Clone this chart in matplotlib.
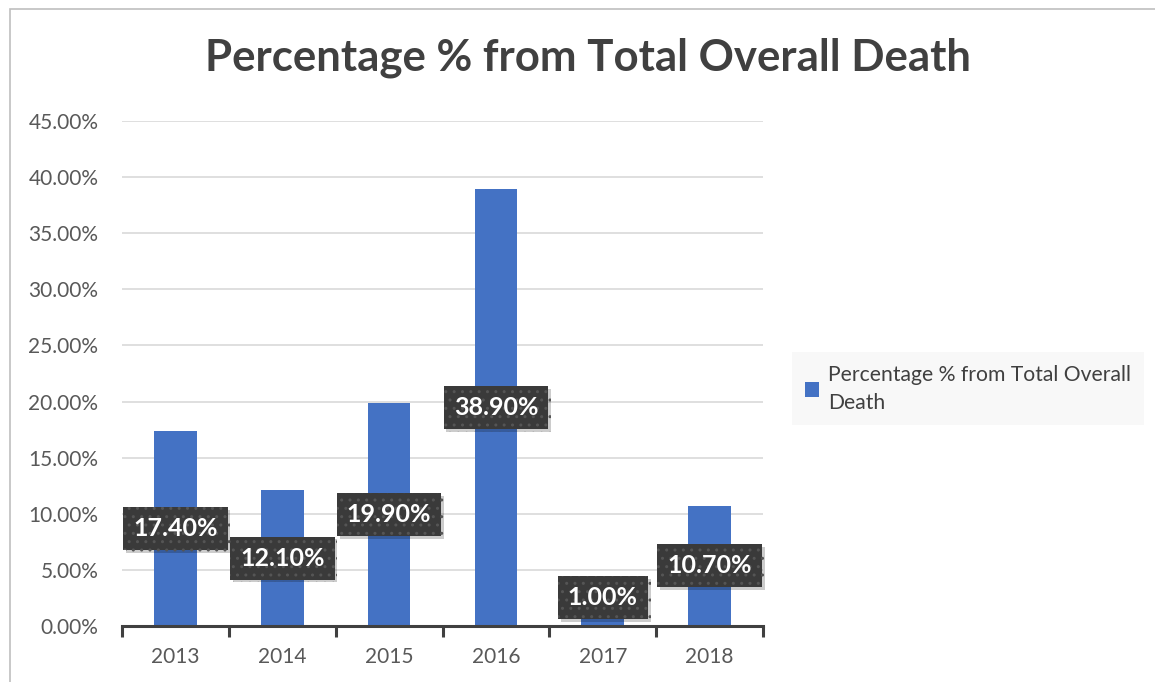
import matplotlib.pyplot as plt
import matplotlib.patheffects as pe
from matplotlib.patches import Rectangle
from matplotlib.ticker import FuncFormatter, MultipleLocator

# data
years = ['2013', '2014', '2015', '2016', '2017', '2018']
values = [17.40, 12.10, 19.90, 38.90, 1.00, 10.70]
series_name = 'Percentage % from Total Overall Death'

bar_color = '#4472C4'
text_color = '#404040'

plt.rcParams['font.family'] = ['Lato', 'DejaVu Sans']

fig = plt.figure(figsize=(11.55, 6.82), dpi=100)
ax = fig.add_axes([122 / 1155, 1 - 626 / 682, 641 / 1155, 505 / 682])

# outer chart border (only top/left visible in the reference)
fig.patches.append(Rectangle((10 / 1155, -0.1), 1.2, 1 - 9 / 682 + 0.1,
                             transform=fig.transFigure, fill=False,
                             ec='#BFBFBF', lw=1.2))

x = range(len(years))
bars = ax.bar(x, values, width=0.4, color=bar_color, label=series_name, zorder=3)

ax.set_xlim(-0.5, len(years) - 0.5)
ax.set_ylim(0, 45)
ax.yaxis.set_major_locator(MultipleLocator(5))
ax.yaxis.set_major_formatter(FuncFormatter(lambda v, p: f'{v:.2f}%'))
ax.grid(axis='y', color='#D9D9D9', lw=1.2, zorder=0)
ax.set_axisbelow(True)

for s in ['top', 'right', 'left']:
    ax.spines[s].set_visible(False)
ax.spines['bottom'].set_color('#404040')
ax.spines['bottom'].set_linewidth(2.2)
ax.spines['bottom'].set_zorder(5)

ax.set_xticks([i - 0.5 for i in range(len(years) + 1)], minor=False)
ax.set_xticklabels([])
ax.set_xticks(list(x), minor=True)
ax.set_xticklabels(years, minor=True)
ax.tick_params(axis='x', which='major', length=8, width=2.2, color='#404040', direction='out')
ax.tick_params(axis='x', which='minor', length=0, pad=15, labelsize=15, labelcolor='#595959')
ax.tick_params(axis='y', length=0, pad=17, labelsize=15, labelcolor='#595959')

# data labels
for i, v in enumerate(values):
    t = ax.text(i, max(v / 2, 2.5), f'{v:.2f}%', ha='center', va='center',
                color='white', fontsize=18, fontweight='bold', zorder=6,
                bbox=dict(boxstyle='square,pad=0.4', fc='#3A3A3A', ec='#555555',
                          lw=0, hatch='..'))
    t.get_bbox_patch().set_path_effects([
        pe.SimplePatchShadow(offset=(2, -2), shadow_rgbFace='#000000', alpha=0.2),
        pe.Normal()])

fig.suptitle(series_name, x=0.509, y=0.945, fontsize=31.5, fontweight='bold',
             color=text_color)

leg = fig.legend([bars], ['Percentage % from Total Overall\nDeath'],
                 loc='upper left', bbox_to_anchor=(792 / 1155, 1 - 352 / 682),
                 borderaxespad=0, frameon=True, fancybox=False, fontsize=15.2,
                 handlelength=0.7, handleheight=0.7, handletextpad=0.4,
                 borderpad=0.6, labelcolor=text_color)
leg.get_frame().set_facecolor('#F7F7F7')
leg.get_frame().set_edgecolor('none')
for txt in leg.get_texts():
    txt.set_linespacing(1.5)

fig.savefig('out.png', dpi=100)
